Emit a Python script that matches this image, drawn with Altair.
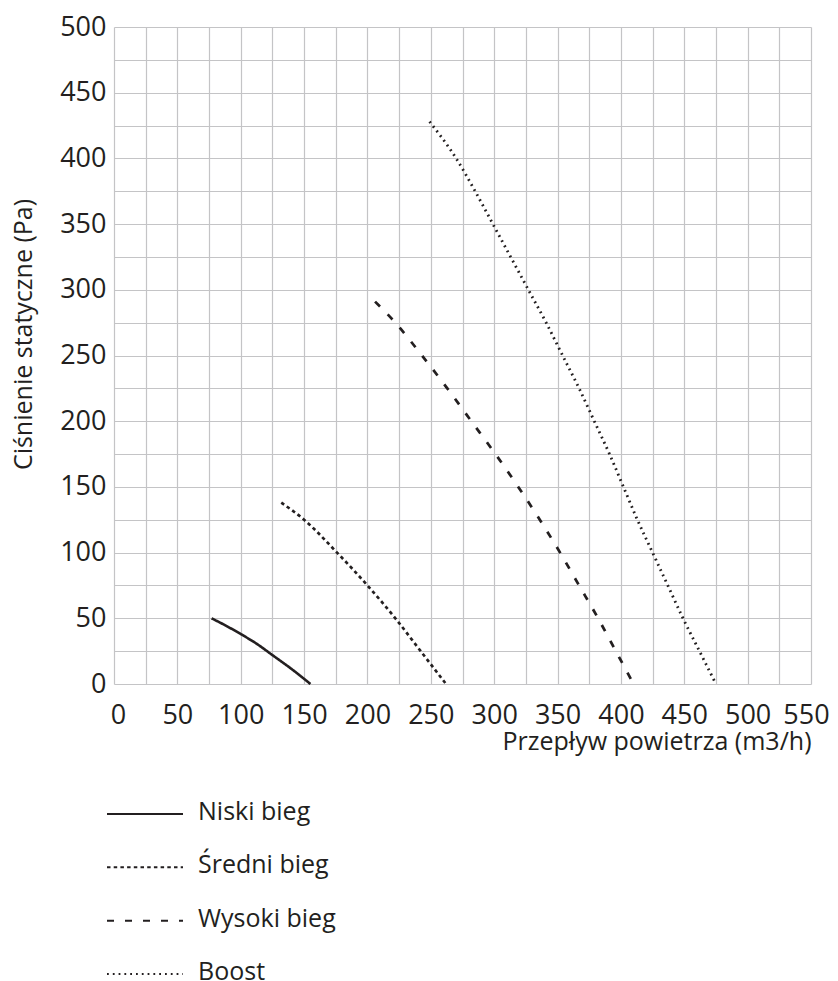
import altair as alt
import pandas as pd

# ---- data ----
series = ["Niski bieg", "Średni bieg", "Wysoki bieg", "Boost"]

niski_x = [77, 90, 100, 112, 125, 140, 155]
niski_y = [50, 43.5, 38, 31, 22, 11.5, 0]

sredni_x = [132, 150, 176, 200, 222, 242, 262]
sredni_y = [138, 125, 100, 75, 50, 25, 0]

wysoki_x = [206, 222, 243, 263, 282, 301, 319, 336, 352, 367, 382, 396, 410]
wysoki_y = [291, 275, 250, 225, 200, 175, 150, 125, 100, 75, 50, 25, 0]

boost_x = [249, 270, 285, 299, 313, 327, 341, 354, 367, 379, 391, 402, 413, 425, 437, 449, 462, 475]
boost_y = [428, 400, 375, 350, 325, 300, 275, 250, 225, 200, 175, 150, 125, 100, 75, 50, 25, 0]

x_ticks = list(range(0, 551, 25))
y_ticks = list(range(0, 501, 25))

dashes = [[1, 0], [3.5, 3.2], [7, 11], [1.8, 4]]
widths = [2.6, 2.8, 2.8, 2.4]

FONT = "Open Sans"
INK = "#231f20"

rows = []
for name, xs, ys in [
    (series[0], niski_x, niski_y),
    (series[1], sredni_x, sredni_y),
    (series[2], wysoki_x, wysoki_y),
    (series[3], boost_x, boost_y),
]:
    for i, (a, b) in enumerate(zip(xs, ys)):
        rows.append({"series": name, "flow": a, "pressure": b, "order": i})
df = pd.DataFrame(rows)
leg_df = pd.DataFrame({"series": series})

dash_scale = alt.Scale(domain=series, range=dashes)
width_scale = alt.Scale(domain=series, range=widths)

main = alt.Chart(df).mark_line(interpolate="monotone", color=INK).encode(
    x=alt.X(
        "flow:Q",
        scale=alt.Scale(domain=[0, 550], nice=False, zero=False),
        axis=alt.Axis(
            values=x_ticks,
            labelExpr="datum.value % 50 == 0 ? datum.label : ''",
            labelOverlap=False,
            labelFlush=False,
            labelOffset=alt.ExprRef("datum.value == 0 ? 4 : (datum.value == 550 ? -5 : 0)"),
            title="Przepływ powietrza (m3/h)",
            titleAnchor="end",
            labelPadding=18,
            titlePadding=1,
        ),
    ),
    y=alt.Y(
        "pressure:Q",
        scale=alt.Scale(domain=[0, 500], nice=False, zero=False),
        axis=alt.Axis(
            values=y_ticks,
            labelExpr="datum.value % 50 == 0 ? datum.label : ''",
            labelOverlap=False,
            title="Ciśnienie statyczne (Pa)",
            labelPadding=8,
            titleX=-91,
            titleY=307,
            titleAlign="center",
            titleBaseline="middle",
            titleAngle=270,
        ),
    ),
    strokeDash=alt.StrokeDash("series:N", scale=dash_scale, legend=None),
    strokeWidth=alt.StrokeWidth("series:N", scale=width_scale, legend=None),
    detail="series:N",
    order="order:Q",
).properties(width=697, height=657)

leg_y = alt.Y(
    "series:N",
    scale=alt.Scale(type="point", domain=series, padding=0),
    axis=None,
)
leg_lines = alt.Chart(leg_df).mark_rule(color=INK, yOffset=2).encode(
    y=leg_y,
    x=alt.value(-7),
    x2=alt.value(69),
    strokeDash=alt.StrokeDash("series:N", scale=dash_scale, legend=None),
    strokeWidth=alt.value(2),
)
leg_text = alt.Chart(leg_df).mark_text(
    align="left", baseline="middle", font=FONT, fontSize=25, color=INK
).encode(
    y=leg_y,
    x=alt.value(84),
    text="series:N",
)
legend = alt.layer(leg_lines, leg_text).properties(width=300, height=160)

chart = (
    alt.vconcat(main, legend, spacing=46)
    .properties(padding={"left": 3, "top": 5, "right": 0, "bottom": 0})
    .configure_view(strokeWidth=0)
    .configure_axis(
        grid=True,
        gridColor="#c4c4c6",
        gridWidth=1.2,
        ticks=False,
        domain=False,
        labelFont=FONT,
        labelFontSize=27,
        labelColor=INK,
        titleFont=FONT,
        titleFontSize=25,
        titleFontWeight="normal",
        titleColor=INK,
    )
)

chart.save("out.html", embed_options={"renderer": "svg", "actions": False})
